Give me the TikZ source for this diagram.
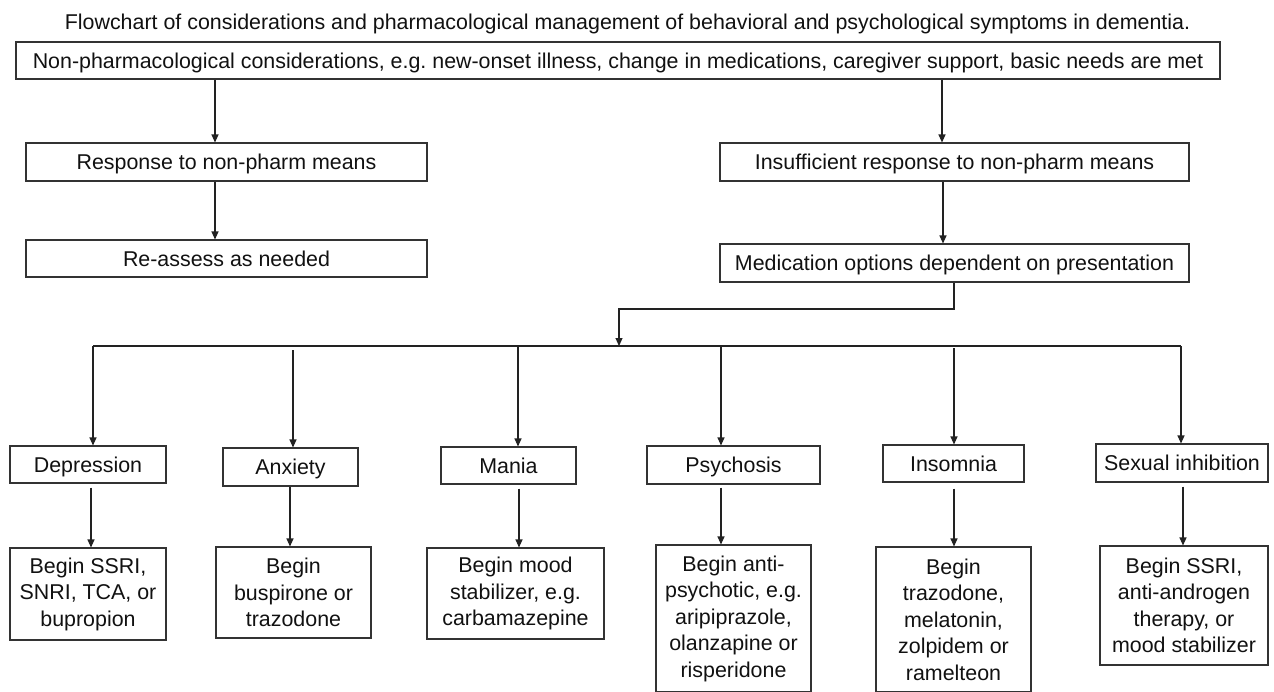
\documentclass[tikz,border=0pt]{standalone}
\usepackage{fontspec}
\setmainfont{Liberation Sans}
\usetikzlibrary{arrows.meta}
\definecolor{linec}{HTML}{222222}
\definecolor{boxc}{HTML}{333333}
\definecolor{txt}{HTML}{111111}
\tikzset{
  box/.style={draw=boxc, line width=1.1pt, inner sep=0pt, align=center,
    font=\fontsize{21.4}{26.5}\selectfont, text=txt},
  one/.style={text height=15.3pt, text depth=0pt},
  arr/.style={draw=linec, line width=1.1pt, -{Triangle[length=8pt,width=7pt]}},
  ln/.style={draw=linec, line width=1.1pt},
}
\frenchspacing
\begin{document}
\frenchspacing
\begin{tikzpicture}[x=1pt,y=-1pt]
\useasboundingbox (0,0) rectangle (1274,691);
\clip (0,0) rectangle (1274,691);
\fill[white] (0,0) rectangle (1274,691);
% title
\node[font=\fontsize{21.4}{26}\selectfont, text=txt, inner sep=0pt, one] (title) at (627.5,21.5)
  {Flowchart of considerations and pharmacological management of behavioral and psychological symptoms in dementia.};
% upper boxes
\node[box, one, minimum width=1204pt, minimum height=37pt] (top) at (618,60.5)
  {Non-pharmacological considerations, e.g. new-onset illness, change in medications, caregiver support, basic needs are met};
\node[box, one, minimum width=401pt, minimum height=38pt] (resp) at (226.5,162) {Response to non-pharm means};
\node[box, one, minimum width=401pt, minimum height=37pt] (reass) at (226.5,258.5) {Re-assess as needed};
\node[box, one, minimum width=469pt, minimum height=38pt] (insuff) at (954.5,162) {Insufficient response to non-pharm means};
\node[box, one, minimum width=469pt, minimum height=38pt] (med) at (954.5,263) {Medication options dependent on presentation};
% symptom boxes
\node[box, one, minimum width=156pt, minimum height=37pt] (dep) at (88,464.5) {Depression};
\node[box, one, minimum width=135pt, minimum height=38pt] (anx) at (290.5,467) {Anxiety};
\node[box, one, minimum width=135pt, minimum height=37pt] (man) at (508.5,465.5) {Mania};
\node[box, one, minimum width=173pt, minimum height=38pt] (psy) at (733.5,465) {Psychosis};
\node[box, one, minimum width=141pt, minimum height=37pt] (ins) at (953.5,463.5) {Insomnia};
\node[box, one, minimum width=172pt, minimum height=38pt] (sex) at (1182,463) {Sexual inhibition};
% treatment boxes
\node[box, minimum width=156pt, minimum height=92pt] (depR) at (88,594) {Begin SSRI,\\SNRI, TCA, or\\bupropion};
\node[box, minimum width=155pt, minimum height=91pt] (anxR) at (293.5,592.5) {Begin\\buspirone or\\trazodone};
\node[box, minimum width=177pt, minimum height=91pt] (manR) at (515.5,593.5) {Begin mood\\stabilizer, e.g.\\carbamazepine};
\node[box, minimum width=155pt, minimum height=147pt] (psyR) at (733.5,618.5) {Begin anti-\\psychotic, e.g.\\aripiprazole,\\olanzapine or\\risperidone};
\node[box, minimum width=155pt, minimum height=145pt] (insR) at (953.5,619.5) {Begin\\trazodone,\\melatonin,\\zolpidem or\\ramelteon};
\node[box, minimum width=168pt, minimum height=119pt] (sexR) at (1184,605.5) {Begin SSRI,\\anti-androgen\\therapy, or\\mood stabilizer};
% upper connectors
\draw[arr] (top.south -| 215,0) -- (resp.north -| 215,0);
\draw[arr] (resp.south -| 215,0) -- (reass.north -| 215,0);
\draw[arr] (top.south -| 942,0) -- (insuff.north -| 942,0);
\draw[arr] (insuff.south -| 943,0) -- (med.north -| 943,0);
% branching
\coordinate (split) at (619,309);
\coordinate (busL) at (93,346);
\coordinate (busR) at (1181,346);
\draw[arr] (med.south -| 954,0) |- (split) -- (split |- busL);
\draw[ln] (busL) -- (busR);
\draw[arr] (busL) -- (dep.north -| busL);
\draw[arr, shorten <=4pt] (busL -| 293,0) -- (anx.north -| 293,0);
\draw[arr] (busL -| 518,0) -- (man.north -| 518,0);
\draw[arr] (busL -| 721,0) -- (psy.north -| 721,0);
\draw[arr, shorten <=2pt] (busL -| 954,0) -- (ins.north -| 954,0);
\draw[arr] (busR) -- (sex.north -| busR);
% lower connectors
\draw[arr, shorten <=4pt] (dep.south -| 91,0) -- (depR.north -| 91,0);
\draw[arr] (anx.south -| 290,0) -- (anxR.north -| 290,0);
\draw[arr, shorten <=4pt] (man.south -| 519,0) -- (manR.north -| 519,0);
\draw[arr, shorten <=3pt] (psy.south -| 721,0) -- (psyR.north -| 721,0);
\draw[arr, shorten <=6pt] (ins.south -| 954,0) -- (insR.north -| 954,0);
\draw[arr, shorten <=4pt] (sex.south -| 1183,0) -- (sexR.north -| 1183,0);
\end{tikzpicture}
\end{document}
